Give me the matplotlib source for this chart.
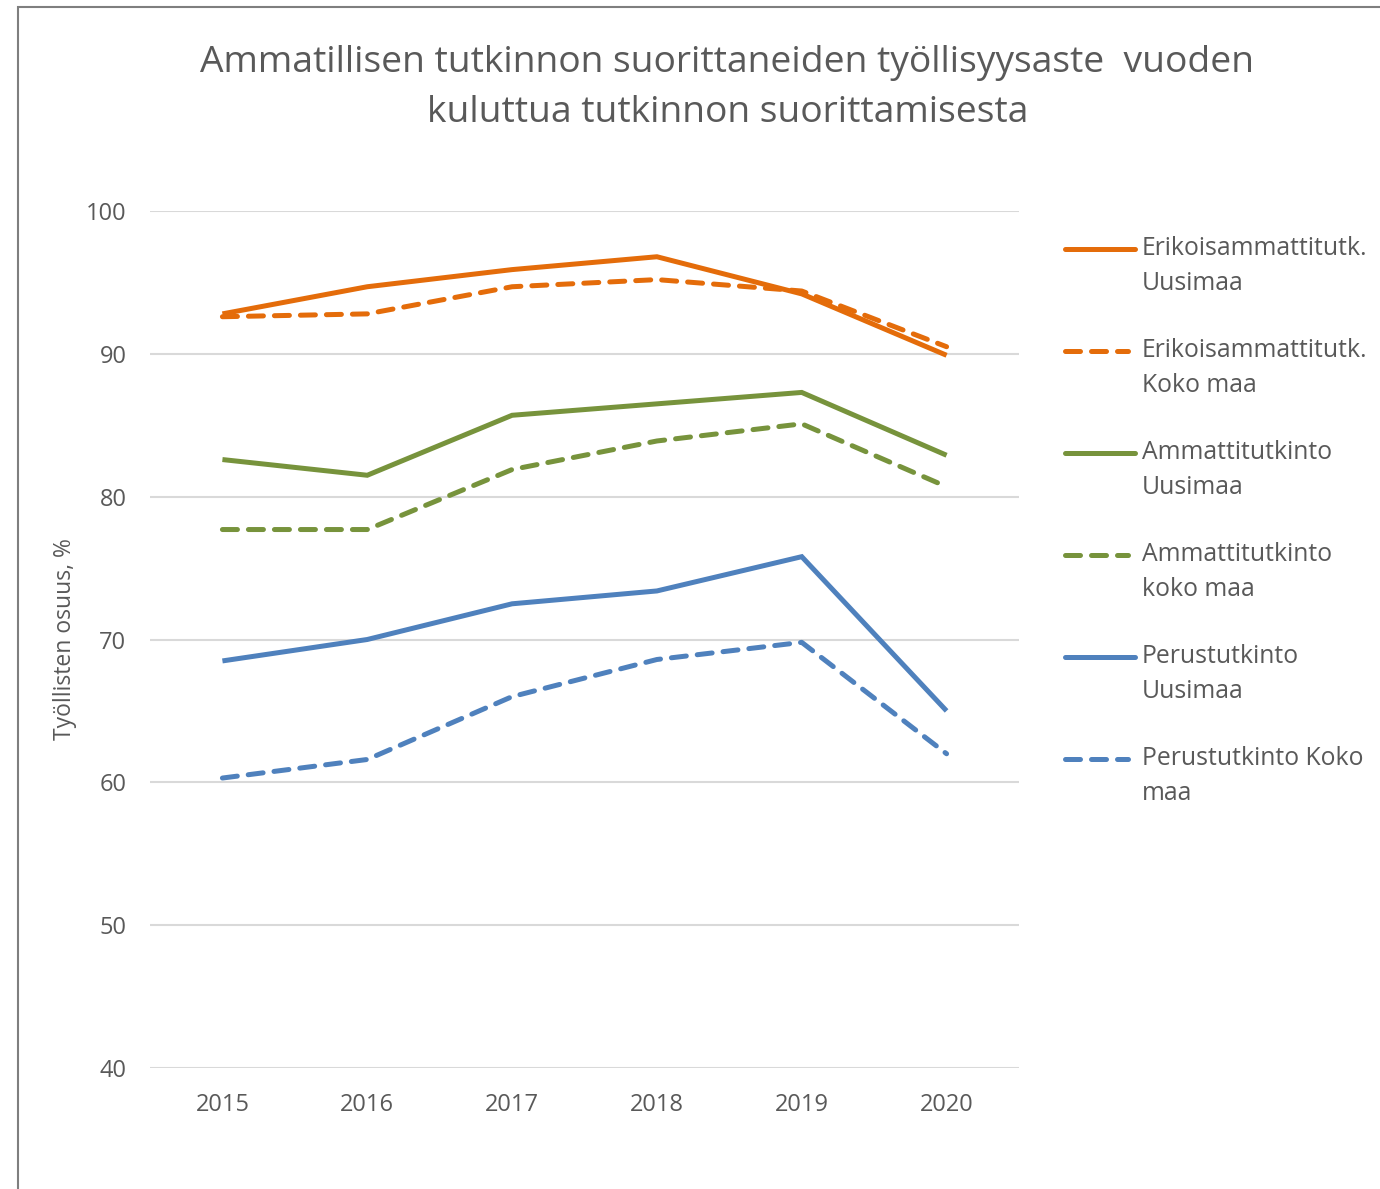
import matplotlib
matplotlib.use("Agg")
import matplotlib.pyplot as plt
from matplotlib.lines import Line2D
from matplotlib.patches import Rectangle

plt.rcParams['font.family'] = ['Open Sans', 'DejaVu Sans']

# ---------------------------------------------------------------------------
# data
# ---------------------------------------------------------------------------
years = [2015, 2016, 2017, 2018, 2019, 2020]

erik_uusimaa = [92.8, 94.7, 95.9, 96.8, 94.2, 89.9]
erik_koko = [92.6, 92.8, 94.7, 95.2, 94.4, 90.5]
amm_uusimaa = [82.6, 81.5, 85.7, 86.5, 87.3, 82.9]
amm_koko = [77.7, 77.7, 81.9, 83.9, 85.1, 80.7]
perus_uusimaa = [68.5, 70.0, 72.5, 73.4, 75.8, 65.0]
perus_koko = [60.3, 61.6, 66.0, 68.6, 69.8, 62.0]

labels = ["Erikoisammattitutk.\nUusimaa",
          "Erikoisammattitutk.\nKoko maa",
          "Ammattitutkinto\nUusimaa",
          "Ammattitutkinto\nkoko maa",
          "Perustutkinto\nUusimaa",
          "Perustutkinto Koko\nmaa"]

ORANGE = "#E46C0A"
GREEN = "#77933C"
BLUE = "#4F81BD"
TXT = "#595959"

series = [
    (erik_uusimaa, ORANGE, False),
    (erik_koko, ORANGE, True),
    (amm_uusimaa, GREEN, False),
    (amm_koko, GREEN, True),
    (perus_uusimaa, BLUE, False),
    (perus_koko, BLUE, True),
]

W, H = 1380, 1189
fig = plt.figure(figsize=(W / 100, H / 100), dpi=100)
ax = fig.add_axes([0.1087, 0.1018, 0.6297, 0.7207])

DASH = dict(dashes=(3.0, 2.2), dash_capstyle="round")

for vals, col, dashed in series:
    if dashed:
        ax.plot(years, vals, color=col, lw=3.6, **DASH)
    else:
        ax.plot(years, vals, color=col, lw=3.6, solid_capstyle="butt",
                solid_joinstyle="miter")

ax.set_xlim(2014.5, 2020.5)
ax.set_ylim(40, 100)
ax.set_yticks(range(40, 101, 10))
ax.set_xticks(years)
ax.grid(axis="y", color="#D9D9D9", lw=1.5)
ax.set_axisbelow(True)
for s in ax.spines.values():
    s.set_visible(False)
ax.tick_params(length=0, labelsize=17, labelcolor=TXT)
ax.tick_params(axis="x", pad=18)
ax.tick_params(axis="y", pad=17)
ax.set_ylabel("Työllisten osuus, %", fontsize=16.5, color=TXT)
ax.yaxis.set_label_coords(-0.084, 0.5)

fig.text(0.527, 1 - 45 / H,
         "Ammatillisen tutkinnon suorittaneiden työllisyysaste  vuoden\n"
         "kuluttua tutkinnon suorittamisesta",
         ha="center", va="top", fontsize=26.8, color=TXT, linespacing=1.5)

# legend drawn by hand: handle aligned with the first text line
for i, ((vals, col, dashed), lab) in enumerate(zip(series, labels)):
    yc = 1 - (249 + 102 * i) / H
    x1 = 1135 if not dashed else 1128
    kw = DASH if dashed else dict(solid_capstyle="round")
    fig.add_artist(Line2D([1065 / W, x1 / W], [yc, yc], color=col, lw=3.6,
                          transform=fig.transFigure, **kw))
    fig.text(1142 / W, yc + 13 / H, lab, ha="left", va="top", fontsize=17.8,
             color=TXT, linespacing=1.54)

# outer frame (cut by the image edge on the right and bottom)
fig.patches.append(Rectangle((18 / W, -0.05), 1.2, 1 - 7 / H + 0.05,
                             transform=fig.transFigure, fill=False,
                             edgecolor="#7F7F7F", lw=1.5))

fig.savefig("out.png", dpi=100, facecolor="white")
